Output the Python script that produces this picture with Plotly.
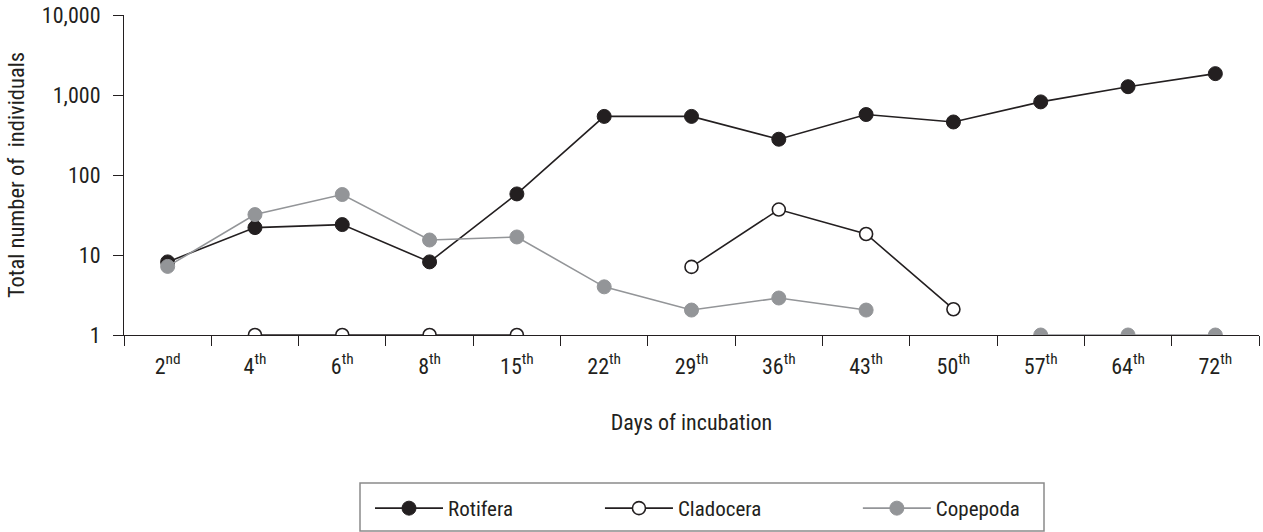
import plotly.graph_objects as go

days = ["2", "4", "6", "8", "15", "22", "29", "36", "43", "50", "57", "64", "72"]
suffixes = ["nd", "th", "th", "th", "th", "th", "th", "th", "th", "th", "th", "th", "th"]
tick_labels = [f"{d}<sup>{s}</sup>" for d, s in zip(days, suffixes)]

rotifera = [8.2, 22, 24, 8.2, 58, 540, 540, 280, 570, 460, 820, 1270, 1850]
cladocera = [None, 1, 1, 1, 1, None, 7.1, 37, 18.3, 2.1, None, None, None]
copepoda = [7.2, 32, 57, 15.4, 16.8, 4, 2.05, 2.9, 2.05, None, 1, 1, 1]

y_ticks = [1, 10, 100, 1000, 10000]
y_tick_labels = ["1", "10", "100", "1,000", "10,000"]

BLACK = "#231f20"
GRAY = "#939598"
FONT = "Roboto Condensed, Liberation Sans Narrow, Arial Narrow, Liberation Sans, Arial"
NB = "\u00a0"

fig = go.Figure()
fig.add_trace(go.Scatter(x=tick_labels, y=rotifera, name="Rotifera" + NB * 17, mode="lines+markers",
                         line=dict(color=BLACK, width=1.6),
                         marker=dict(color=BLACK, size=14, line=dict(color=BLACK, width=1)),
                         connectgaps=False))
fig.add_trace(go.Scatter(x=tick_labels, y=cladocera, name="Cladocera" + NB * 19, mode="lines+markers",
                         line=dict(color=BLACK, width=1.6),
                         marker=dict(color="white", size=13, line=dict(color=BLACK, width=1.6)),
                         connectgaps=False))
fig.add_trace(go.Scatter(x=tick_labels, y=copepoda, name="Copepoda", mode="lines+markers",
                         line=dict(color=GRAY, width=1.6),
                         marker=dict(color=GRAY, size=14, line=dict(color=GRAY, width=1)),
                         connectgaps=False))

# legend frame (paper coords derived from plot-area size 1135 x 320)
PW, PH = 1135.0, 320.0
fig.add_shape(type="rect", xref="paper", yref="paper",
              x0=(360 - 124) / PW, x1=(1044 - 124) / PW,
              y0=(335 - 531) / PH, y1=(335 - 483) / PH,
              line=dict(color="#8a8a8a", width=1.5), fillcolor="rgba(0,0,0,0)", layer="above")

fig.update_layout(
    width=1263, height=532,
    margin=dict(l=124, r=4, t=15, b=197, autoexpand=False),
    paper_bgcolor="white", plot_bgcolor="white",
    font=dict(family=FONT, size=22, color="#231f20"),
    showlegend=True,
    legend=dict(orientation="h", x=(370 - 124) / PW, y=(335 - 488) / PH,
                xanchor="left", yanchor="top", bgcolor="rgba(0,0,0,0)",
                borderwidth=0, entrywidth=0, itemwidth=68,
                font=dict(family=FONT, size=21, color="#231f20")),
    xaxis=dict(type="category", categoryorder="array", categoryarray=tick_labels,
               range=[-0.5, 12.5], showline=True, linecolor=BLACK, linewidth=1.2,
               ticks="outside", tickson="boundaries", ticklen=10, tickcolor=BLACK,
               tickwidth=1.2, showgrid=False, zeroline=False, ticklabelstandoff=11,
               automargin=False, tickfont=dict(family=FONT, size=22),
               title=dict(text="Days of incubation", standoff=37,
                          font=dict(family=FONT, size=22))),
    yaxis=dict(type="log", range=[0, 4], tickvals=y_ticks, ticktext=y_tick_labels,
               showline=True, linecolor=BLACK, linewidth=1.2, ticks="outside",
               ticklen=10, tickcolor=BLACK, tickwidth=1.2, showgrid=False,
               zeroline=False, ticklabelstandoff=8, automargin=False,
               tickfont=dict(family=FONT, size=22),
               title=dict(text="Total number of  individuals", standoff=10,
                          font=dict(family=FONT, size=22.5))),
)

fig.write_html("out.html")
